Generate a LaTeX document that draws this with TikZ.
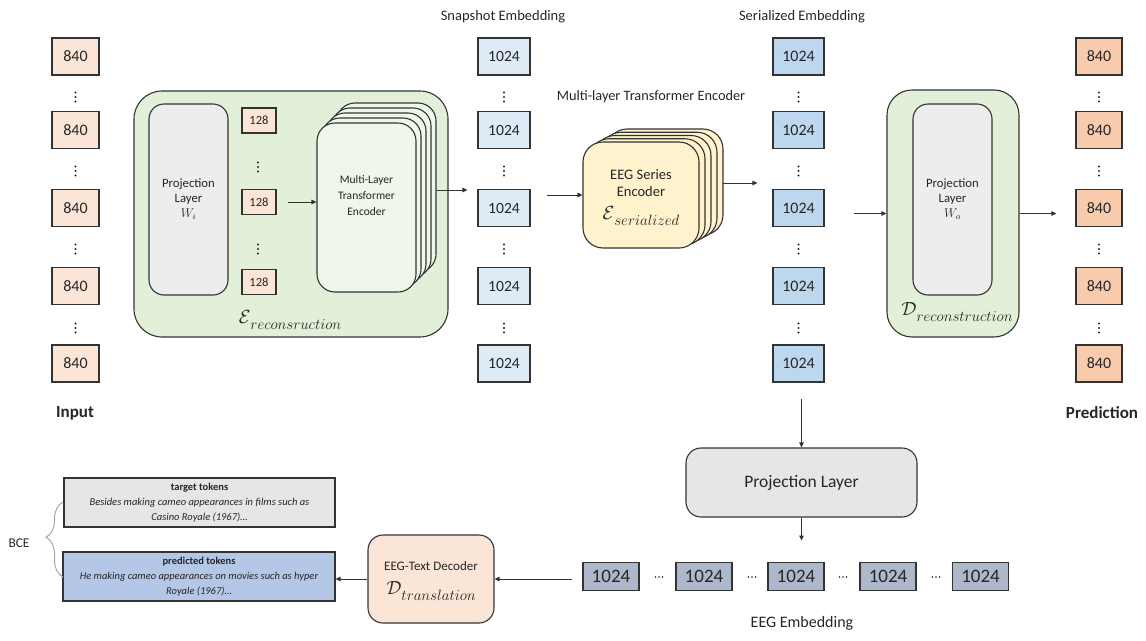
\RequirePackage{fix-cm}
\documentclass[tikz,border=0pt]{standalone}
\usepackage{fontspec}
\setmainfont{Carlito}
\usetikzlibrary{arrows.meta,decorations.pathreplacing,calc}
\definecolor{lc}{HTML}{333333}
\definecolor{tc}{HTML}{262626}
\definecolor{cIn}{HTML}{FBE5D6}
\definecolor{cSnap}{HTML}{DEEBF7}
\definecolor{cSer}{HTML}{BDD7EE}
\definecolor{cPred}{HTML}{F8CBAD}
\definecolor{cGreen}{HTML}{E2F0D9}
\definecolor{cCard}{HTML}{EFF6EA}
\definecolor{cGray}{HTML}{EDEDED}
\definecolor{cGray2}{HTML}{E7E6E6}
\definecolor{cYel}{HTML}{FFF2CC}
\definecolor{cEmb}{HTML}{ADB9CA}
\definecolor{cPredTok}{HTML}{B4C7E7}
\definecolor{cBrace}{HTML}{A6A6A6}
\newcommand{\calsub}[2]{$\mathcal{#1}$\raisebox{-0.28em}{\fontsize{15}{15}\selectfont$#2$}}
\begin{document}
\begin{tikzpicture}[x=1pt,y=-1pt,
  every node/.style={text=tc},
  cell/.style={draw=lc, line width=1.1pt, inner sep=0pt, minimum height=37pt, font=\fontsize{16}{16}\selectfont},
  incell/.style={cell, fill=cIn, minimum width=47pt},
  snapcell/.style={cell, fill=cSnap, minimum width=52pt, font=\fontsize{15.6}{16}\selectfont},
  sercell/.style={cell, fill=cSer, minimum width=51pt},
  predcell/.style={cell, fill=cPred, minimum width=46pt},
  smallcell/.style={cell, fill=cIn, minimum width=34pt, minimum height=25pt, font=\fontsize{12.5}{13}\selectfont},
  embcell/.style={cell, fill=cEmb, minimum width=56pt, minimum height=28pt, font=\fontsize{19}{19}\selectfont},
  container/.style={draw=lc, line width=1.1pt, fill=cGreen, rounded corners=28pt, inner sep=0pt},
  projbox/.style={draw=lc, line width=1.1pt, fill=cGray, rounded corners=15pt, inner sep=0pt, align=center, font=\fontsize{12.7}{15}\selectfont},
  tcard/.style={draw=lc, line width=1.1pt, fill=cCard, rounded corners=18pt},
  ecard/.style={draw=lc, line width=1.1pt, fill=cYel, rounded corners=20pt},
  rbox/.style={draw=lc, line width=1.1pt, rounded corners=15pt, inner sep=0pt, align=center},
  tokbox/.style={draw=lc, line width=1.1pt, inner sep=0pt, minimum height=49pt, align=center, font=\fontsize{10.5}{15}\selectfont},
  lbl/.style={font=\fontsize{14.5}{15}\selectfont},
  bold/.style={font=\fontsize{17}{17}\selectfont\bfseries},
  arr/.style={draw=lc, line width=0.9pt, -{Triangle[length=5pt,width=4.5pt]}},
  vdts/.pic={\fill[tc] (0,-4.5) circle[radius=1.15pt] (0,0) circle[radius=1.15pt] (0,4.5) circle[radius=1.15pt];},
  hdts/.pic={\fill[tc] (-3.5,0) circle[radius=0.9pt] (0,0) circle[radius=0.9pt] (3.5,0) circle[radius=0.9pt];}
]
\useasboundingbox (0,0) rectangle (1146,640);

% ---------- columns ----------
\foreach \i/\y in {1/56.5,2/130,3/208,4/286,5/363.5}{
  \node[incell] (in\i) at (75.5,\y) {840};
  \node[snapcell] (sn\i) at (504,\y) {1024};
  \node[sercell] (se\i) at (798.5,\y) {1024};
  \node[predcell] (pr\i) at (1099,\y) {840};
}
\foreach \y in {97,171,249,328}
  \foreach \x in {75.5,504,798.5,1099}
    \pic at (\x,\y) {vdts};

\node[lbl] (snlab) at (503,17) {Snapshot Embedding};
\node[lbl] (selab) at (802,17) {Serialized Embedding};
\node[bold] (inlab) at (75,413) {Input};
\node[bold] (prlab) at (1102,413) {Prediction};

% ---------- encoder reconstruction ----------
\node[container, minimum width=314pt, minimum height=246pt] (encR) at (291,214) {};
\node[projbox, minimum width=79pt, minimum height=191pt] (projI) at (188.5,199.5) {Projection\\Layer\\$W_i$};
\node[smallcell] (c1) at (259,120.5) {128};
\node[smallcell] (c2) at (259,202) {128};
\node[smallcell] (c3) at (259,282) {128};
\pic at (258,167) {vdts};
\pic at (258,249) {vdts};
\foreach \k in {4,3,2,1}
  \draw[tcard] (317+5*\k,123-5*\k) rectangle ++(99,169);
\node[tcard, minimum width=99pt, minimum height=169pt, inner sep=0pt] (tf) at (366.5,207.5) {};
\node[align=center, font=\fontsize{11.5}{16}\selectfont] (tftext) at (366.5,196) {Multi-Layer\\Transformer\\Encoder};
\node[font=\fontsize{19}{19}\selectfont] (encRlab) at (290,320) {\calsub{E}{reconsruction}};

\draw[arr] ([xshift=11pt]c2.east) -- (c2.east -| tf.west);
\coordinate (tfR) at (437,190);
\draw[arr] (tfR) -- ([xshift=-10pt]tfR -| sn3.west);

% ---------- serialized encoder ----------
\node[font=\fontsize{14.3}{15}\selectfont] (mlte) at (651,97) {Multi-layer Transformer Encoder};
\foreach \k in {4,3,2,1}
  \draw[ecard] (583+6*\k,142-3.25*\k) rectangle ++(116,106);
\node[ecard, minimum width=116pt, minimum height=106pt, inner sep=0pt] (eeg) at (641,195) {};
\node[align=center, font=\fontsize{14.5}{17}\selectfont] (eegtext) at (641,183.5) {EEG Series\\Encoder};
\node[font=\fontsize{19}{19}\selectfont] (eegsub) at (641,216) {\calsub{E}{serialized}};

\draw[arr] ([xshift=16pt]sn3.east |- eeg.west) -- (eeg.west);
\coordinate (eegR) at (723,183);
\draw[arr] (eegR) -- ([xshift=-15pt]eegR -| se3.west);

% ---------- decoder reconstruction ----------
\node[container, rounded corners=25pt, minimum width=132pt, minimum height=247pt] (drec) at (953,213.5) {};
\node[projbox, minimum width=79pt, minimum height=191pt] (projO) at (952.5,199.5) {Projection\\Layer\\$W_o$};
\node[font=\fontsize{19}{19}\selectfont] (dreclab) at (957,312) {\calsub{D}{reconstruction}};

\draw[arr] ([xshift=29pt]se3.east |- drec.west) -- (drec.west);
\draw[arr] (drec.east) -- ([xshift=-19pt]drec.east -| pr3.west);

% ---------- translation branch ----------
\node[rbox, fill=cGray2, minimum width=231pt, minimum height=69pt, font=\fontsize{17.5}{18}\selectfont] (pl) at (801.5,482.5) {Projection Layer};
\draw[arr] ($(pl.north)+(0,-48)$) -- (pl.north);

\node[embcell] (em1) at (611,576.5) {1024};
\node[embcell] (em2) at (704,576.5) {1024};
\node[embcell] (em3) at (796,576.5) {1024};
\node[embcell] (em4) at (888,576.5) {1024};
\node[embcell] (em5) at (980.5,576.5) {1024};
\foreach \x in {659,752,843,936} \pic at (\x,577) {hdts};
\node[font=\fontsize{16}{16}\selectfont] (emlab) at (802,623) {EEG Embedding};
\draw[arr] (pl.south) -- ($(pl.south)+(0,23)$);

\node[rbox, fill=cIn, minimum width=126pt, minimum height=88pt] (dec) at (431,579) {};
\node[font=\fontsize{13}{13}\selectfont] (dectext) at (431,566) {EEG-Text Decoder};
\node[font=\fontsize{19}{19}\selectfont] (decsub) at (431,591) {\calsub{D}{translation}};
\draw[arr] ([xshift=-10pt]em1.west |- dec.east) -- (dec.east);

\node[tokbox, fill=cGray2, minimum width=271pt] (tgt) at (199.5,502.5) {\textbf{target tokens}\\\textit{Besides making cameo appearances in films such as}\\\textit{Casino Royale (1967)…}};
\node[tokbox, fill=cPredTok, minimum width=272pt] (prd) at (199,576.5) {\textbf{predicted tokens}\\\textit{He making cameo appearances on movies such as hyper}\\\textit{Royale (1967)…}};
\draw[arr] (dec.west) -- (dec.west -| prd.east);

\draw[cBrace, line width=1pt, decorate, decoration={brace, amplitude=17pt, aspect=0.53}] (63,577) -- (63,502);
\node[font=\fontsize{13.4}{14}\selectfont] (bce) at (19,543) {BCE};
\end{tikzpicture}
\end{document}
